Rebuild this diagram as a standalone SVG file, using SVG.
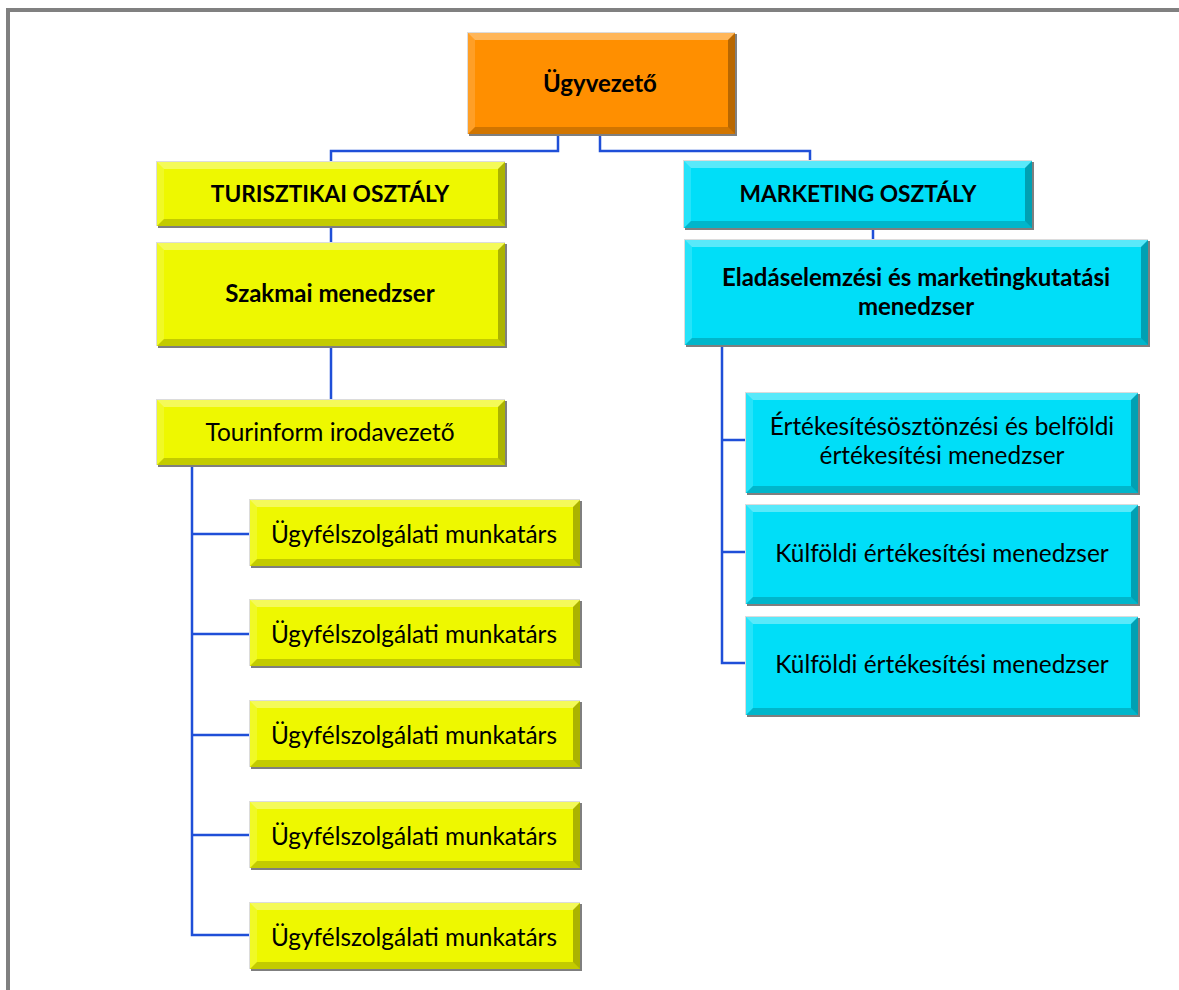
<svg xmlns="http://www.w3.org/2000/svg" width="1179" height="990" viewBox="0 0 1179 990">
<style>
.sh{fill:#7f7f7f}
.hl{fill:#dcdcdc}
.or{fill:#FF8F00}
.ye{fill:#EEF800}
.cy{fill:#00DEF8}
.lt{fill:#ffffff;fill-opacity:0.35}
.ls{fill:#ffffff;fill-opacity:0.15}
.dk{fill:#000000;fill-opacity:0.28}
.db{fill:#000000;fill-opacity:0.18}
.b{font-family:Lato,"Liberation Sans",sans-serif;font-weight:bold;font-size:24px;fill:#000;text-anchor:middle}
.u{font-size:22.7px}
.r{font-family:Lato,"Liberation Sans",sans-serif;font-size:24.4px;fill:#000;text-anchor:middle}
.c{fill:none;stroke:#1F4FD8;stroke-width:2.5}
</style>
<rect x="0" y="0" width="1179" height="990" fill="#fff"/>
<path d="M8,990 V10 H1179" fill="none" stroke="#808080" stroke-width="4"/>
<g id="connectors">
<path class="c" d="M558,134 V151 H331 V162"/>
<path class="c" d="M600,134 V151 H810 V161"/>
<path class="c" d="M331,226 V243"/>
<path class="c" d="M331,346 V400"/>
<path class="c" d="M873,228 V240"/>
<path class="c" d="M192,465 V935 H250 M192,534 H250 M192,634 H250 M192,735 H250 M192,835 H250"/>
<path class="c" d="M722,345 V663 H746 M722,440 H746 M722,552 H746"/>
</g>
<g id="n-ceo">
<rect class="hl" x="467" y="32" width="268" height="102"/>
<rect class="sh" x="469" y="34" width="268" height="102"/>
<rect class="or" x="468" y="33" width="267" height="101"/>
<polygon class="lt" points="468,33 735,33 728,40 475,40"/>
<polygon class="ls" points="468,33 475,40 475,127 468,134"/>
<polygon class="dk" points="735,33 735,134 728,127 728,40"/>
<polygon class="db" points="468,134 735,134 728,127 475,127"/>
<text class="b" x="600" y="92">Ügyvezető</text>
</g>
<g id="n-tur">
<rect class="hl" x="156" y="161" width="349" height="65"/>
<rect class="sh" x="158" y="163" width="349" height="65"/>
<rect class="ye" x="157" y="162" width="348" height="64"/>
<polygon class="lt" points="157,162 505,162 498,169 164,169"/>
<polygon class="ls" points="157,162 164,169 164,219 157,226"/>
<polygon class="dk" points="505,162 505,226 498,219 498,169"/>
<polygon class="db" points="157,226 505,226 498,219 164,219"/>
<text class="b u" x="330" y="202">TURISZTIKAI OSZTÁLY</text>
</g>
<g id="n-szak">
<rect class="hl" x="156" y="242" width="349" height="104"/>
<rect class="sh" x="158" y="244" width="349" height="104"/>
<rect class="ye" x="157" y="243" width="348" height="103"/>
<polygon class="lt" points="157,243 505,243 498,250 164,250"/>
<polygon class="ls" points="157,243 164,250 164,339 157,346"/>
<polygon class="dk" points="505,243 505,346 498,339 498,250"/>
<polygon class="db" points="157,346 505,346 498,339 164,339"/>
<text class="b" x="330" y="302">Szakmai menedzser</text>
</g>
<g id="n-tour">
<rect class="hl" x="156" y="399" width="349" height="66"/>
<rect class="sh" x="158" y="401" width="349" height="66"/>
<rect class="ye" x="157" y="400" width="348" height="65"/>
<polygon class="lt" points="157,400 505,400 498,407 164,407"/>
<polygon class="ls" points="157,400 164,407 164,458 157,465"/>
<polygon class="dk" points="505,400 505,465 498,458 498,407"/>
<polygon class="db" points="157,465 505,465 498,458 164,458"/>
<text class="r" x="330" y="441">Tourinform irodavezető</text>
</g>
<g id="n-ugy1">
<rect class="hl" x="249" y="499" width="331" height="67"/>
<rect class="sh" x="251" y="501" width="331" height="67"/>
<rect class="ye" x="250" y="500" width="330" height="66"/>
<polygon class="lt" points="250,500 580,500 573,507 257,507"/>
<polygon class="ls" points="250,500 257,507 257,559 250,566"/>
<polygon class="dk" points="580,500 580,566 573,559 573,507"/>
<polygon class="db" points="250,566 580,566 573,559 257,559"/>
<text class="r" x="414" y="543">Ügyfélszolgálati munkatárs</text>
</g>
<g id="n-ugy2">
<rect class="hl" x="249" y="599" width="331" height="67"/>
<rect class="sh" x="251" y="601" width="331" height="67"/>
<rect class="ye" x="250" y="600" width="330" height="66"/>
<polygon class="lt" points="250,600 580,600 573,607 257,607"/>
<polygon class="ls" points="250,600 257,607 257,659 250,666"/>
<polygon class="dk" points="580,600 580,666 573,659 573,607"/>
<polygon class="db" points="250,666 580,666 573,659 257,659"/>
<text class="r" x="414" y="643">Ügyfélszolgálati munkatárs</text>
</g>
<g id="n-ugy3">
<rect class="hl" x="249" y="700" width="331" height="67"/>
<rect class="sh" x="251" y="702" width="331" height="67"/>
<rect class="ye" x="250" y="701" width="330" height="66"/>
<polygon class="lt" points="250,701 580,701 573,708 257,708"/>
<polygon class="ls" points="250,701 257,708 257,760 250,767"/>
<polygon class="dk" points="580,701 580,767 573,760 573,708"/>
<polygon class="db" points="250,767 580,767 573,760 257,760"/>
<text class="r" x="414" y="744">Ügyfélszolgálati munkatárs</text>
</g>
<g id="n-ugy4">
<rect class="hl" x="249" y="801" width="331" height="67"/>
<rect class="sh" x="251" y="803" width="331" height="67"/>
<rect class="ye" x="250" y="802" width="330" height="66"/>
<polygon class="lt" points="250,802 580,802 573,809 257,809"/>
<polygon class="ls" points="250,802 257,809 257,861 250,868"/>
<polygon class="dk" points="580,802 580,868 573,861 573,809"/>
<polygon class="db" points="250,868 580,868 573,861 257,861"/>
<text class="r" x="414" y="845">Ügyfélszolgálati munkatárs</text>
</g>
<g id="n-ugy5">
<rect class="hl" x="249" y="902" width="331" height="67"/>
<rect class="sh" x="251" y="904" width="331" height="67"/>
<rect class="ye" x="250" y="903" width="330" height="66"/>
<polygon class="lt" points="250,903 580,903 573,910 257,910"/>
<polygon class="ls" points="250,903 257,910 257,962 250,969"/>
<polygon class="dk" points="580,903 580,969 573,962 573,910"/>
<polygon class="db" points="250,969 580,969 573,962 257,962"/>
<text class="r" x="414" y="946">Ügyfélszolgálati munkatárs</text>
</g>
<g id="n-mkt">
<rect class="hl" x="683" y="160" width="349" height="68"/>
<rect class="sh" x="685" y="162" width="349" height="68"/>
<rect class="cy" x="684" y="161" width="348" height="67"/>
<polygon class="lt" points="684,161 1032,161 1025,168 691,168"/>
<polygon class="ls" points="684,161 691,168 691,221 684,228"/>
<polygon class="dk" points="1032,161 1032,228 1025,221 1025,168"/>
<polygon class="db" points="684,228 1032,228 1025,221 691,221"/>
<text class="b u" x="858" y="202">MARKETING OSZTÁLY</text>
</g>
<g id="n-elad">
<rect class="hl" x="684" y="239" width="464" height="106"/>
<rect class="sh" x="686" y="241" width="464" height="106"/>
<rect class="cy" x="685" y="240" width="463" height="105"/>
<polygon class="lt" points="685,240 1148,240 1141,247 692,247"/>
<polygon class="ls" points="685,240 692,247 692,338 685,345"/>
<polygon class="dk" points="1148,240 1148,345 1141,338 1141,247"/>
<polygon class="db" points="685,345 1148,345 1141,338 692,338"/>
<text class="b" x="916" y="286">Eladáselemzési és marketingkutatási</text>
<text class="b" x="916" y="315">menedzser</text>
</g>
<g id="n-ert">
<rect class="hl" x="745" y="392" width="393" height="101"/>
<rect class="sh" x="747" y="394" width="393" height="101"/>
<rect class="cy" x="746" y="393" width="392" height="100"/>
<polygon class="lt" points="746,393 1138,393 1131,400 753,400"/>
<polygon class="ls" points="746,393 753,400 753,486 746,493"/>
<polygon class="dk" points="1138,393 1138,493 1131,486 1131,400"/>
<polygon class="db" points="746,493 1138,493 1131,486 753,486"/>
<text class="r" x="942" y="435">Értékesítésösztönzési és belföldi</text>
<text class="r" x="942" y="464">értékesítési menedzser</text>
</g>
<g id="n-kulf1">
<rect class="hl" x="745" y="504" width="393" height="100"/>
<rect class="sh" x="747" y="506" width="393" height="100"/>
<rect class="cy" x="746" y="505" width="392" height="99"/>
<polygon class="lt" points="746,505 1138,505 1131,512 753,512"/>
<polygon class="ls" points="746,505 753,512 753,597 746,604"/>
<polygon class="dk" points="1138,505 1138,604 1131,597 1131,512"/>
<polygon class="db" points="746,604 1138,604 1131,597 753,597"/>
<text class="r" x="942" y="562">Külföldi értékesítési menedzser</text>
</g>
<g id="n-kulf2">
<rect class="hl" x="745" y="616" width="393" height="99"/>
<rect class="sh" x="747" y="618" width="393" height="99"/>
<rect class="cy" x="746" y="617" width="392" height="98"/>
<polygon class="lt" points="746,617 1138,617 1131,624 753,624"/>
<polygon class="ls" points="746,617 753,624 753,708 746,715"/>
<polygon class="dk" points="1138,617 1138,715 1131,708 1131,624"/>
<polygon class="db" points="746,715 1138,715 1131,708 753,708"/>
<text class="r" x="942" y="673">Külföldi értékesítési menedzser</text>
</g>
</svg>
